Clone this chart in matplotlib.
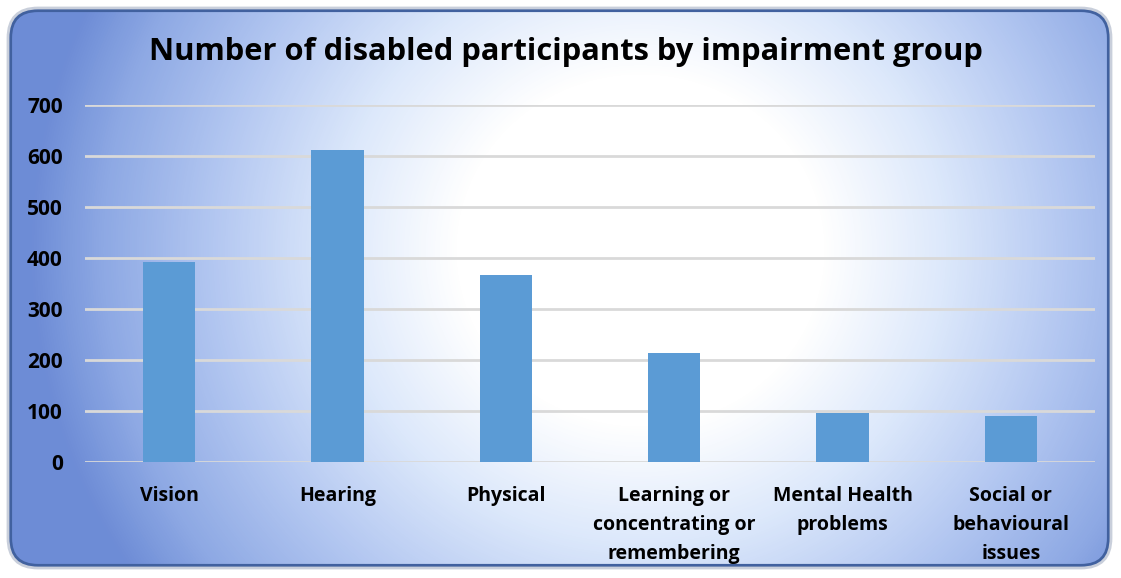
import numpy as np
import matplotlib.pyplot as plt
from matplotlib.patches import FancyBboxPatch
from matplotlib.colors import LinearSegmentedColormap

plt.rcParams['font.family'] = ['Open Sans', 'DejaVu Sans']

categories = ['Vision', 'Hearing', 'Physical',
              'Learning or\nconcentrating or\nremembering',
              'Mental Health\nproblems', 'Social or\nbehavioural\nissues']
participants = [392, 612, 367, 214, 96, 91]
y_ticks = [0, 100, 200, 300, 400, 500, 600, 700]

W, H = 1121, 578
fig = plt.figure(figsize=(W / 100, H / 100), dpi=100)
fig.patch.set_facecolor('white')

# background: rounded panel with radial gradient
bg = fig.add_axes([0, 0, 1, 1])
bg.set_xlim(0, W)
bg.set_ylim(H, 0)
bg.axis('off')
yy, xx = np.mgrid[0:H, 0:W]
d = np.sqrt(((xx - 640) / 470.0) ** 2 + ((yy - 250) / 450.0) ** 2)
cmap = LinearSegmentedColormap.from_list('bgblue', [
    (0.0, '#ffffff'), (0.3, '#ffffff'), (0.5, '#dce8fb'),
    (0.7, '#b3c7f1'), (0.88, '#8ea9e4'), (1.0, '#6d8cd6')])
img = bg.imshow(np.clip(d / 1.3, 0, 1), cmap=cmap, extent=(0, W, H, 0),
                aspect='auto', zorder=0)
frame = FancyBboxPatch((10, 10), W - 22, H - 22,
                       boxstyle='round,pad=0,rounding_size=28',
                       facecolor='none', edgecolor='#41619f', linewidth=3,
                       zorder=2)
bg.add_patch(frame)
img.set_clip_path(frame)
outer = FancyBboxPatch((8, 8), W - 18, H - 18,
                       boxstyle='round,pad=0,rounding_size=30',
                       facecolor='none', edgecolor='#c9cfdb', linewidth=2,
                       zorder=3)
bg.add_patch(outer)

# chart axes
ax = fig.add_axes([85 / W, 1 - 462 / H, 1010 / W, 357 / H])
ax.patch.set_alpha(0)
x = np.arange(len(categories))
ax.bar(x, participants, width=0.31, color='#5b9bd5', zorder=3)
ax.set_xlim(-0.5, len(categories) - 0.5)
ax.set_ylim(0, 700)
ax.set_yticks(y_ticks)
ax.set_yticklabels([str(t) for t in y_ticks], fontsize=15, fontweight='bold')
ax.set_xticks(x)
ax.set_xticklabels(categories, fontsize=14, fontweight='bold',
                   linespacing=1.6)
ax.tick_params(length=0)
ax.tick_params(axis='y', pad=16)
ax.tick_params(axis='x', pad=17)
ax.grid(axis='y', color='#d9d9d9', linewidth=2, zorder=1)
for s in ax.spines.values():
    s.set_visible(False)

fig.text(566 / W, 1 - 52 / H, 'Number of disabled participants by impairment group',
         ha='center', va='center', fontsize=22.2, fontweight='bold')

fig.savefig('out.png', dpi=100)
